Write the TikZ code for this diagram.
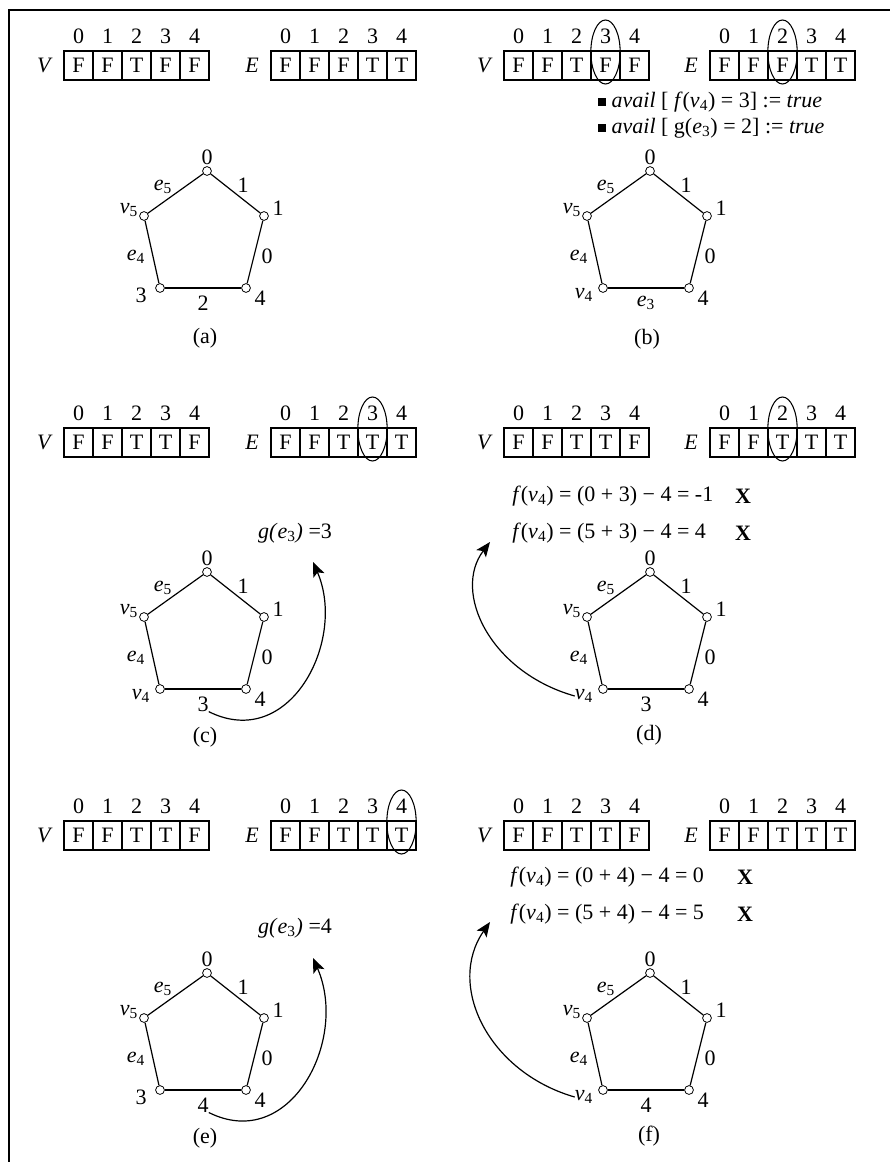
\documentclass[tikz,border=0pt]{standalone}
\usepackage{fontspec}
\setmainfont{Liberation Serif}
\usetikzlibrary{arrows.meta}

\newcommand\txt{\fontsize{16.5}{19}\selectfont}
\newcommand\lo[1]{\textsubscript{#1}}
\newcommand\vv[1]{\textit{v}\lo{#1}}
\newcommand\ee[1]{\textit{e}\lo{#1}}
\newcommand\mn{\char"2212\relax}
\newcommand\sqbullet{\rule[0.05em]{0.36em}{0.36em}}

\tikzset{
  every node/.style={font=\txt, inner sep=0pt},
  cell/.style={draw, line width=0.8pt, minimum width=21.75pt, minimum height=21.75pt},
  vtx/.style={circle, draw, fill=white, line width=0.6pt, minimum size=6.6pt},
  pedge/.style={line width=0.9pt},
  hilite/.style={line width=0.8pt},
  curvearrow/.style={line width=0.9pt, -{Stealth[length=11pt, width=9pt, inset=2.5pt]}},
}

% boolean array: name, label, left x of boxes, top y of boxes, values
\newcommand\boolarr[5]{%
  \node (#1-lab) at ({#3-19},{#4+14.5}) {\textit{#2}};
  \foreach \val [count=\i from 0] in {#5} {
    \node[cell] (#1-\i) at ({#3+14.5+29*\i},{#4+14.5}) {\val};
    \node (#1-n\i) at ({#3+14.5+29*\i},{#4-15}) {\i};
  }
}
% ellipse round one column: left x of boxes, top y of boxes, column index
\newcommand\ring[3]{%
  \draw[hilite] ({#1+14.5+29*#3},{#2+1}) ellipse [x radius=11pt, y radius=24pt];
}
% pentagon: prefix, dx, dy, label of lower-left vertex, label of bottom edge
\newcommand\pent[5]{%
  \node[vtx] (#1T)  at ({207+#2},{171+#3}) {};
  \node[vtx] (#1RU) at ({264+#2},{216+#3}) {};
  \node[vtx] (#1RL) at ({246+#2},{288+#3}) {};
  \node[vtx] (#1LL) at ({160+#2},{288+#3}) {};
  \node[vtx] (#1LU) at ({144+#2},{216+#3}) {};
  \draw[pedge] (#1T) -- (#1RU);
  \draw[pedge] (#1RU) -- (#1RL);
  \draw[pedge] (#1RL) -- (#1LL);
  \draw[pedge] (#1LL) -- (#1LU);
  \draw[pedge] (#1LU) -- (#1T);
  \node (#1lT)  at ({207+#2},{157+#3}) {0};
  \node (#1lRU) at ({278+#2},{208+#3}) {1};
  \node (#1lRL) at ({260+#2},{298+#3}) {4};
  \node (#1lLL) at ({141+#2},{295+#3}) {#4};
  \node (#1lLU) at ({129+#2},{210+#3}) {\vv5};
  \node (#1eTL) at ({163+#2},{187+#3}) {\ee5};
  \node (#1eTR) at ({243+#2},{185+#3}) {1};
  \node (#1eR)  at ({267+#2},{256+#3}) {0};
  \node (#1eL)  at ({136+#2},{257+#3}) {\ee4};
  \node (#1eB)  at ({203+#2},{303+#3}) {#5};
}

\begin{document}
\begin{tikzpicture}[x=0.75pt, y=-0.75pt]
\useasboundingbox (0,0) rectangle (890,1162);

% frame
\draw[line width=1.4pt] (9,1162) -- (9,10) -- (890,10);

% ---------- (a) ----------
\boolarr{aV}{V}{64}{51}{F,F,T,F,F}
\boolarr{aE}{E}{271}{51}{F,F,F,T,T}
\pent{a}{0}{0}{3}{2}
\node (capa) at (205,338) {(a)};

% ---------- (b) ----------
\boolarr{bV}{V}{504}{51}{F,F,T,F,F}
\boolarr{bE}{E}{710}{51}{F,F,F,T,T}
\ring{504}{51}{3}
\ring{710}{51}{2}
\node[anchor=west] (bav1) at (598,102) {\sqbullet\ \textit{avail} [ \textit{f}(\vv4) = 3] := \textit{true}};
\node[anchor=west] (bav2) at (598,128) {\sqbullet\ \textit{avail} [ g(\ee3) = 2] := \textit{true}};
\pent{b}{443}{0}{\vv4}{\ee3}
\node (capb) at (647,339) {(b)};

% ---------- (c) ----------
\boolarr{cV}{V}{64}{428}{F,F,T,T,F}
\boolarr{cE}{E}{271}{428}{F,F,T,T,T}
\ring{271}{428}{3}
\pent{c}{0}{401}{\vv4}{3}
\node (cg) at (295,533) {\textit{g(}\ee3\textit{)} =3};
\coordinate (ctip) at (313,562);
\draw[curvearrow] (ceB.south east) .. controls (290,752) and (347,640) .. (ctip);
\node (capc) at (205,737) {(c)};

% ---------- (d) ----------
\boolarr{dV}{V}{504}{428}{F,F,T,T,F}
\boolarr{dE}{E}{710}{428}{F,F,T,T,T}
\ring{710}{428}{2}
\node[anchor=west] (df1) at (512,496) {\textit{f}(\vv4) = (0 + 3) \mn\ 4 = -1};
\node (dx1) at (743,496) {\textbf{X}};
\node[anchor=west] (df2) at (512,533) {\textit{f}(\vv4) = (5 + 3) \mn\ 4 = 4};
\node (dx2) at (743,533) {\textbf{X}};
\pent{d}{443}{401}{\vv4}{3}
\coordinate (dtip) at (490,542);
\draw[curvearrow] (dlLL.west) .. controls (490,672) and (452,592) .. (dtip);
\node (capd) at (649,735) {(d)};

% ---------- (e) ----------
\boolarr{eV}{V}{64}{821}{F,F,T,T,F}
\boolarr{eE}{E}{271}{821}{F,F,T,T,T}
\ring{271}{821}{4}
\pent{e}{0}{802}{3}{4}
\node (eg) at (295,928) {\textit{g(}\ee3\textit{)} =4};
\coordinate (etip) at (313,958);
\draw[curvearrow] (eeB.south east) .. controls (290,1153) and (349,1040) .. (etip);
\node (cape) at (205,1138) {(e)};

% ---------- (f) ----------
\boolarr{fV}{V}{504}{821}{F,F,T,T,F}
\boolarr{fE}{E}{710}{821}{F,F,T,T,T}
\node[anchor=west] (ff1) at (510,877) {\textit{f}(\vv4) = (0 + 4) \mn\ 4 = 0};
\node (fx1) at (745,877) {\textbf{X}};
\node[anchor=west] (ff2) at (510,914) {\textit{f}(\vv4) = (5 + 4) \mn\ 4 = 5};
\node (fx2) at (745,914) {\textbf{X}};
\pent{f}{443}{802}{\vv4}{4}
\coordinate (ftip) at (490,922);
\draw[curvearrow] (flLL.west) .. controls (488,1072) and (446,985) .. (ftip);
\node (capf) at (649,1136) {(f)};
\end{tikzpicture}
\end{document}
